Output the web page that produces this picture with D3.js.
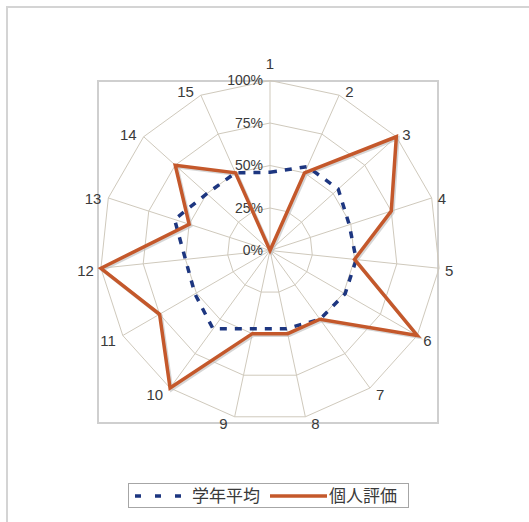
<!DOCTYPE html>
<html><head><meta charset="utf-8">
<script src="https://cdn.jsdelivr.net/npm/d3@7"></script>
<style>body{margin:0;background:#fff}svg{display:block}</style>
</head><body>
<svg id="c" width="529" height="522"></svg>
<script>
const categories = ["1","2","3","4","5","6","7","8","9","10","11","12","13","14","15"];
const seriesNames = ["学年平均","個人評価"];
const gradeAverage = [0.46,0.54,0.54,0.49,0.51,0.51,0.50,0.47,0.47,0.57,0.51,0.50,0.59,0.50,0.50];
const personal = [0,0.5,1,0.75,0.5,1,0.5,0.5,0.5,1,0.75,1,0.5,0.75,0.5];
const tickValues = [0,0.25,0.5,0.75,1];
const tickLabels = ["0%","25%","50%","75%","100%"];

const svg = d3.select("#c");
const cx = 270, cy = 250.5, R = 170;
const rScale = d3.scaleLinear().domain([0,1]).range([0,R]);
const aScale = d3.scaleLinear().domain([0,categories.length]).range([0,2*Math.PI]);
const pt = (i,v)=>[cx+rScale(v)*Math.sin(aScale(i)), cy-rScale(v)*Math.cos(aScale(i))];
const font = "Liberation Sans, Arial, sans-serif";

// outer chart border
svg.append("rect").attr("x",7).attr("y",7).attr("width",540).attr("height",540)
  .attr("fill","none").attr("stroke","#d4d4d4").attr("stroke-width",2);
// plot area box
svg.append("rect").attr("x",98).attr("y",81).attr("width",340).attr("height",342)
  .attr("fill","none").attr("stroke","#cfcfcf").attr("stroke-width",2);

const grid = svg.append("g");
tickValues.forEach(t=>{
  if(t===0) return;
  grid.append("polygon").attr("points",categories.map((c,i)=>pt(i,t).join(",")).join(" "))
    .attr("fill","none").attr("stroke","#cfc9bc").attr("stroke-width",1);
});
categories.forEach((c,i)=>{
  const p = pt(i,1);
  grid.append("line").attr("x1",cx).attr("y1",cy).attr("x2",p[0]).attr("y2",p[1])
    .attr("stroke","#cfc9bc").attr("stroke-width",1);
});

// tick labels
tickValues.forEach((t,k)=>{
  svg.append("text").attr("x",cx-7).attr("y",cy-rScale(t)).attr("dy","0.35em")
    .attr("text-anchor","end").attr("font-family",font)
    .attr("font-size",14).attr("fill","#3a3a3a").text(tickLabels[k]);
});

// axis labels
categories.forEach((c,i)=>{
  const a = aScale(i), s = Math.sin(a), co = Math.cos(a);
  const v = pt(i,1);
  let x = v[0], y = v[1], anchor = "middle";
  if (Math.abs(s) < 0.01) { y = v[1] - 17; }
  else {
    anchor = s > 0 ? "start" : "end";
    x = v[0] + (s > 0 ? 6 : -7);
    y = v[1] - 5.5*co + 2;
  }
  svg.append("text").attr("x",x).attr("y",y).attr("dy","0.35em")
    .attr("text-anchor",anchor).attr("font-family",font)
    .attr("font-size",15).attr("fill","#3a3a3a").text(c);
});

const line = d3.lineRadial().angle((d,i)=>aScale(i)).radius(d=>rScale(d)).curve(d3.curveLinearClosed);
const orange = "#c4582b", blue = "#1d3680";

// shadow for orange
svg.append("path").attr("transform",`translate(${cx+1.5},${cy+1.5})`).attr("d",line(personal))
  .attr("fill","none").attr("stroke","#bbb").attr("stroke-opacity",0.6).attr("stroke-width",3.5).attr("stroke-linejoin","miter");
svg.append("path").attr("transform",`translate(${cx},${cy})`).attr("d",line(gradeAverage))
  .attr("fill","none").attr("stroke",blue).attr("stroke-width",3.5).attr("stroke-dasharray","7,8");
svg.append("path").attr("transform",`translate(${cx},${cy})`).attr("d",line(personal))
  .attr("fill","none").attr("stroke",orange).attr("stroke-width",3.5).attr("stroke-linejoin","miter");

// legend
const lg = svg.append("g");
lg.append("rect").attr("x",128.5).attr("y",483.5).attr("width",280).attr("height",24)
  .attr("fill","#fff").attr("stroke","#a6a6a6").attr("stroke-width",1);
lg.append("line").attr("x1",135).attr("x2",182).attr("y1",496).attr("y2",496)
  .attr("stroke",blue).attr("stroke-width",3.5).attr("stroke-dasharray","6,14");
lg.append("text").attr("x",192).attr("y",496).attr("dy","0.36em")
  .attr("font-family","Noto Sans CJK JP, sans-serif").attr("font-size",17).attr("fill","#3a3a3a").text(seriesNames[0]);
lg.append("line").attr("x1",270).attr("x2",327).attr("y1",496).attr("y2",496)
  .attr("stroke",orange).attr("stroke-width",3.5);
lg.append("text").attr("x",329).attr("y",496).attr("dy","0.36em")
  .attr("font-family","Noto Sans CJK JP, sans-serif").attr("font-size",17).attr("fill","#3a3a3a").text(seriesNames[1]);
</script>
</body></html>
